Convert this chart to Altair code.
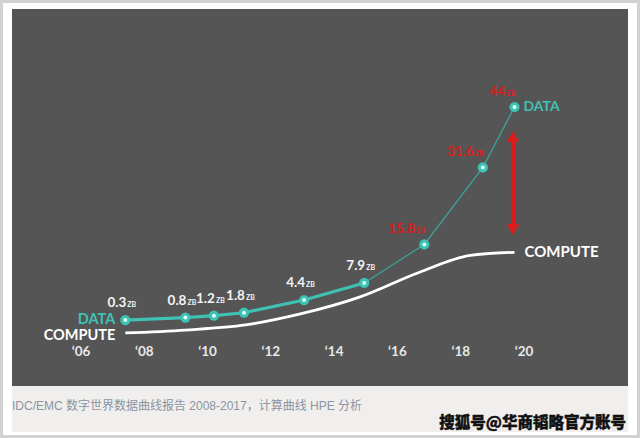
import altair as alt
import pandas as pd

# ---- data ----
data_years = [2007.4, 2009.3, 2010.2, 2011.15, 2013.05, 2014.95, 2016.85, 2018.7, 2019.7]
data_zb = [0.3, 0.8, 1.2, 1.8, 4.4, 7.9, 15.8, 31.6, 44]
data_labels = ["0.3", "0.8", "1.2", "1.8", "4.4", "7.9", "15.8", "31.6", "44"]
label_group = ["w", "w", "w", "w", "w", "w", "r", "r", "r"]

compute_years = [2007.4, 2009.3, 2011.2, 2012.9, 2014.8, 2016.7, 2018.3, 2019.7]
compute_vals = [-2.35, -1.75, -0.7, 1.5, 5.0, 10.1, 13.55, 14.2]

tick_years = [2006, 2008, 2010, 2012, 2014, 2016, 2018, 2020]
tick_labels = ["‘06", "‘08", "‘10", "‘12", "‘14", "‘16", "‘18", "‘20"]

arrow_year = [2019.65]
arrow_top = [37.9]
arrow_bottom = [18.9]

caption = "IDC/EMC 数字世界数据曲线报告 2008-2017，计算曲线 HPE 分析"
watermark = "搜狐号@华商韬略官方账号"

TEAL = "#3fc2b4"
RED = "#e01b1b"
FONT = "Lato"

df = pd.DataFrame({"year": data_years, "zb": data_zb, "label": data_labels,
                   "grp": label_group, "idx": list(range(len(data_years)))})
cdf = pd.DataFrame({"year": compute_years, "v": compute_vals})
tdf = pd.DataFrame({"year": tick_years, "t": tick_labels})
adf = pd.DataFrame({"year": arrow_year, "top": arrow_top, "bot": arrow_bottom})

xs = alt.Scale(domain=[2006, 2020], range=[81, 524], nice=False, zero=False)
ys = alt.Scale(domain=[0, 44], range=[321.5, 107], nice=False, zero=False)
X = lambda f="year": alt.X(f"{f}:Q", scale=xs, axis=None)
Y = lambda f: alt.Y(f"{f}:Q", scale=ys, axis=None)

blank = alt.Data(values=[{"a": 1}])

outer = alt.Chart(blank).mark_rect(fill="#ffffff", stroke="#d2d2d2", strokeWidth=3).encode(
    x=alt.value(1.5), x2=alt.value(638.5), y=alt.value(1.5), y2=alt.value(436.5))
panel = alt.Chart(blank).mark_rect(fill="#555555").encode(
    x=alt.value(12), x2=alt.value(628), y=alt.value(9), y2=alt.value(386))
band = alt.Chart(blank).mark_rect(fill="#f0efed").encode(
    x=alt.value(12), x2=alt.value(628), y=alt.value(386), y2=alt.value(432))

cap = alt.Chart(blank).mark_text(text=caption, align="left", baseline="alphabetic",
                                 font="Liberation Sans, Noto Sans CJK SC", fontSize=12,
                                 color="#8a94a2").encode(
    x=alt.value(12), y=alt.value(410))
wm = alt.Chart(blank).mark_text(text=watermark, align="right", baseline="alphabetic",
                                font="Noto Sans CJK SC", fontSize=15.5, fontWeight=900,
                                color="#111111", stroke="#111111", strokeWidth=0.4).encode(
    x=alt.value(626), y=alt.value(428))

ticks = alt.Chart(tdf).mark_text(font=FONT, fontSize=13.5, fontWeight="bold", color="#e8e8e8",
                                 align="center", baseline="alphabetic").encode(
    x=X(), y=alt.value(356), text="t:N")

compute_line = alt.Chart(cdf).mark_line(color="#ffffff", strokeWidth=2.8,
                                        interpolate="monotone").encode(x=X(), y=Y("v"))

thick = alt.Chart(df).transform_filter("datum.idx <= 5").mark_line(
    color=TEAL, strokeWidth=3.2).encode(x=X(), y=Y("zb"))
thin = alt.Chart(df).transform_filter("datum.idx >= 5").mark_line(
    color="#3aa79c", strokeWidth=1.2).encode(x=X(), y=Y("zb"))

pts = alt.Chart(df).mark_point(shape="circle", filled=True, size=105, color=TEAL,
                               opacity=1).encode(x=X(), y=Y("zb"))
pts_in = alt.Chart(df).mark_point(shape="circle", filled=True, size=16, color="#d9fff9",
                                  opacity=1).encode(x=X(), y=Y("zb"))

white_num = alt.Chart(df).transform_filter("datum.grp == 'w'").mark_text(
    font=FONT, fontSize=13.5, fontWeight="bold", color="#f4f4f4", align="right",
    baseline="alphabetic", dx=1, dy=-13).encode(x=X(), y=Y("zb"), text="label:N")
white_zb = alt.Chart(df).transform_filter("datum.grp == 'w'").mark_text(
    text="ZB", font=FONT, fontSize=7, fontWeight="bold", color="#f4f4f4", align="left",
    baseline="alphabetic", dx=2, dy=-13).encode(x=X(), y=Y("zb"))
red_num = alt.Chart(df).transform_filter("datum.grp == 'r'").mark_text(
    font=FONT, fontSize=13.5, fontWeight="bold", color=RED, align="right",
    baseline="alphabetic", dx=-9, dy=-11).encode(x=X(), y=Y("zb"), text="label:N")
red_zb = alt.Chart(df).transform_filter("datum.grp == 'r'").mark_text(
    text="ZB", font=FONT, fontSize=7, fontWeight="bold", color=RED, align="left",
    baseline="alphabetic", dx=-8, dy=-11).encode(x=X(), y=Y("zb"))

first = df[df.idx == 0]
last = df[df.idx == len(df) - 1]
data_left = alt.Chart(first).mark_text(text="DATA", font=FONT, fontSize=14.5, fontWeight="bold",
                                       color=TEAL, align="right", baseline="alphabetic",
                                       dx=-10, dy=4).encode(x=X(), y=Y("zb"))
data_right = alt.Chart(last).mark_text(text="DATA", font=FONT, fontSize=14, fontWeight="bold",
                                       color=TEAL, align="left", baseline="alphabetic",
                                       dx=9, dy=4).encode(x=X(), y=Y("zb"))
comp_left = alt.Chart(cdf.iloc[[0]]).mark_text(text="COMPUTE", font=FONT, fontSize=14.5,
                                               fontWeight="bold", color="#ffffff", align="right",
                                               baseline="alphabetic", dx=-10, dy=7).encode(
    x=X(), y=Y("v"))
comp_right = alt.Chart(cdf.iloc[[-1]]).mark_text(text="COMPUTE", font=FONT, fontSize=15,
                                                 fontWeight="bold", color="#ffffff", align="left",
                                                 baseline="alphabetic", dx=10, dy=5).encode(
    x=X(), y=Y("v"))

arrow_rule = alt.Chart(adf).mark_rule(color=RED, strokeWidth=4).encode(
    x=X(), y=Y("top"), y2="bot:Q")
arrow_up = alt.Chart(adf).mark_point(shape="triangle-up", filled=True, size=150, color=RED,
                                     opacity=1).encode(x=X(), y=Y("top"))
arrow_dn = alt.Chart(adf).mark_point(shape="triangle-down", filled=True, size=150, color=RED,
                                     opacity=1).encode(x=X(), y=Y("bot"))

chart = alt.layer(
    outer, panel, band, cap, wm, ticks, compute_line, thin, thick, pts, pts_in,
    white_num, white_zb, red_num, red_zb, data_left, data_right, comp_left, comp_right,
    arrow_rule, arrow_up, arrow_dn
).properties(
    width=640, height=438, autosize=alt.AutoSizeParams(type="none"), padding=0,
    background="#ffffff"
).configure_view(stroke=None)

chart.save("out.html", embed_options={"renderer": "svg", "actions": False})
